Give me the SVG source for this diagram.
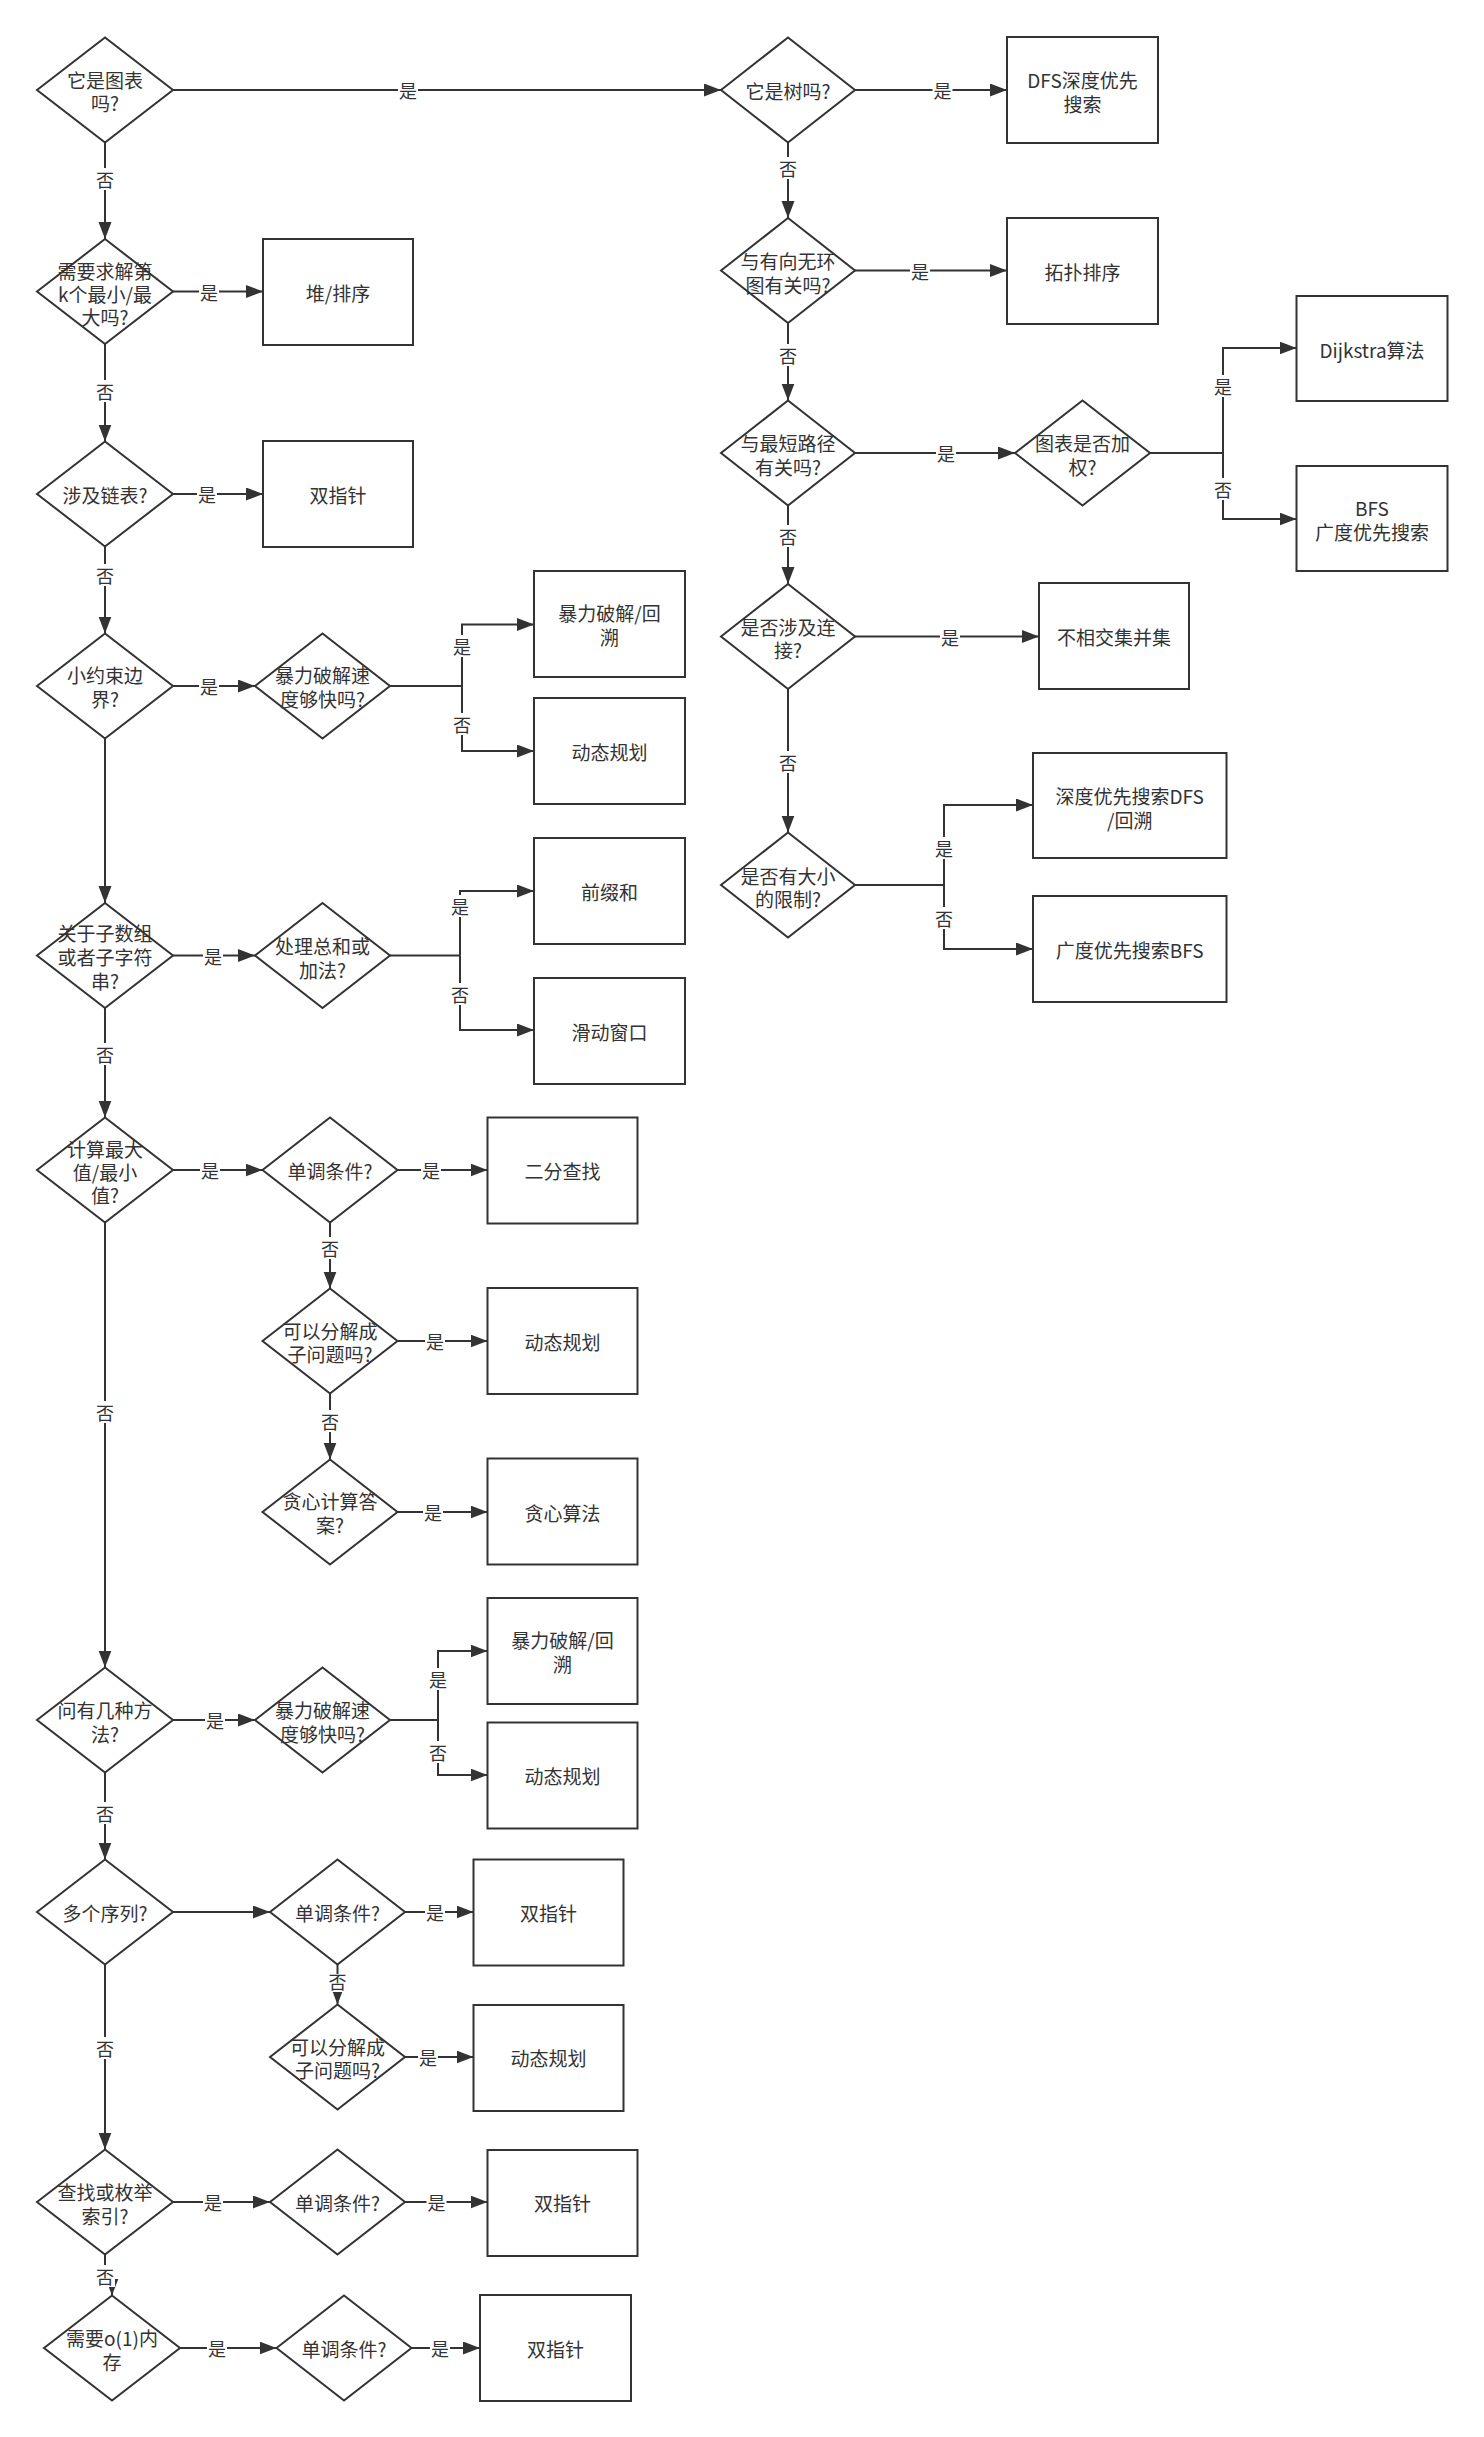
<svg xmlns="http://www.w3.org/2000/svg" width="1484" height="2437" viewBox="0 0 1484 2437">
<style>
.bg{fill:#ffffff}
.n polygon,.n rect{fill:#ffffff;stroke:#333333;stroke-width:2}
.t{font-family:"Noto Sans CJK SC","Liberation Sans",sans-serif;font-size:19px;fill:#333333;text-anchor:middle;dominant-baseline:central}
.e path{fill:none;stroke:#333333;stroke-width:2}
.e .a{marker-end:url(#arr)}
.lb rect{fill:#ffffff}
.lb text{font-family:"Noto Sans CJK SC","Liberation Sans",sans-serif;font-size:18px;fill:#333333;text-anchor:middle;dominant-baseline:central}
</style>
<defs>
<marker id="arr" markerUnits="userSpaceOnUse" markerWidth="18" markerHeight="14" refX="17" refY="6.5" orient="auto">
<path d="M0,0 L17,6.5 L0,13 z" fill="#333333"/>
</marker>
</defs>
<rect class="bg" x="0" y="0" width="1484" height="2437"/>

<g id="edges" class="e">
<path class="a" d="M173,90 L721,90"/>
<path class="a" d="M105,142.5 L105,239"/>
<path class="a" d="M173,291.5 L263,291.5"/>
<path class="a" d="M105,344 L105,441.5"/>
<path class="a" d="M173,494 L263,494"/>
<path class="a" d="M105,546.5 L105,633.5"/>
<path class="a" d="M173,686 L255,686"/>
<path d="M390,686 L462,686"/>
<path class="a" d="M462,686 L462,624.5 L534,624.5"/>
<path class="a" d="M462,686 L462,751 L534,751"/>
<path class="a" d="M105,738.5 L105,903"/>
<path class="a" d="M173,955.5 L255,955.5"/>
<path d="M390,955.5 L460,955.5"/>
<path class="a" d="M460,955.5 L460,891 L534,891"/>
<path class="a" d="M460,955.5 L460,1030 L534,1030"/>
<path class="a" d="M105,1008 L105,1117.5"/>
<path class="a" d="M173,1170 L262.5,1170"/>
<path class="a" d="M397.5,1170 L487.5,1170"/>
<path class="a" d="M330,1222.5 L330,1288.5"/>
<path class="a" d="M397.5,1341 L487.5,1341"/>
<path class="a" d="M330,1393.5 L330,1459.5"/>
<path class="a" d="M397.5,1512 L487.5,1512"/>
<path class="a" d="M105,1222.5 L105,1667.5"/>
<path class="a" d="M173,1720 L255,1720"/>
<path d="M390,1720 L438,1720"/>
<path class="a" d="M438,1720 L438,1651 L487.5,1651"/>
<path class="a" d="M438,1720 L438,1775 L487.5,1775"/>
<path class="a" d="M105,1772.5 L105,1859.5"/>
<path class="a" d="M173,1912 L270,1912"/>
<path class="a" d="M405,1912 L473.5,1912"/>
<path class="a" d="M337.5,1964.5 L337.5,2004.5"/>
<path class="a" d="M405,2057 L473.5,2057"/>
<path class="a" d="M105,1964.5 L105,2149.5"/>
<path class="a" d="M173,2202 L270,2202"/>
<path class="a" d="M405,2202 L487.5,2202"/>
<path class="a" d="M105,2254.5 L105,2276 L112,2276 L112,2295.5"/>
<path class="a" d="M180,2348 L276.5,2348"/>
<path class="a" d="M411.5,2348 L480,2348"/>
<path class="a" d="M855,90 L1007,90"/>
<path class="a" d="M788,142.5 L788,218"/>
<path class="a" d="M855,270.5 L1007,270.5"/>
<path class="a" d="M788,323 L788,400.5"/>
<path class="a" d="M855,453 L1015,453"/>
<path d="M1150,453 L1223,453"/>
<path class="a" d="M1223,453 L1223,348 L1296.5,348"/>
<path class="a" d="M1223,453 L1223,519 L1296.5,519"/>
<path class="a" d="M788,505.5 L788,584"/>
<path class="a" d="M855,636.5 L1039,636.5"/>
<path class="a" d="M788,689 L788,832.5"/>
<path d="M855,885 L944,885"/>
<path class="a" d="M944,885 L944,805 L1033,805"/>
<path class="a" d="M944,885 L944,949 L1033,949"/>
</g>

<g id="edge-labels" class="lb">
<rect x="398" y="79" width="20" height="22"/><text x="408" y="90">是</text>
<rect x="95" y="168" width="20" height="22"/><text x="105" y="179">否</text>
<rect x="199" y="280.5" width="20" height="22"/><text x="209" y="291.5">是</text>
<rect x="95" y="380" width="20" height="22"/><text x="105" y="391">否</text>
<rect x="197" y="483" width="20" height="22"/><text x="207" y="494">是</text>
<rect x="95" y="564" width="20" height="22"/><text x="105" y="575">否</text>
<rect x="199" y="675" width="20" height="22"/><text x="209" y="686">是</text>
<rect x="452" y="635" width="20" height="22"/><text x="462" y="646">是</text>
<rect x="452" y="713" width="20" height="22"/><text x="462" y="724">否</text>
<rect x="203" y="944.5" width="20" height="22"/><text x="213" y="955.5">是</text>
<rect x="450" y="895" width="20" height="22"/><text x="460" y="906">是</text>
<rect x="450" y="983" width="20" height="22"/><text x="460" y="994">否</text>
<rect x="95" y="1043" width="20" height="22"/><text x="105" y="1054">否</text>
<rect x="200" y="1159" width="20" height="22"/><text x="210" y="1170">是</text>
<rect x="421" y="1159" width="20" height="22"/><text x="431" y="1170">是</text>
<rect x="320" y="1237" width="20" height="22"/><text x="330" y="1248">否</text>
<rect x="425" y="1330" width="20" height="22"/><text x="435" y="1341">是</text>
<rect x="320" y="1410" width="20" height="22"/><text x="330" y="1421">否</text>
<rect x="423" y="1501" width="20" height="22"/><text x="433" y="1512">是</text>
<rect x="95" y="1401" width="20" height="22"/><text x="105" y="1412">否</text>
<rect x="205" y="1709" width="20" height="22"/><text x="215" y="1720">是</text>
<rect x="428" y="1668" width="20" height="22"/><text x="438" y="1679">是</text>
<rect x="428" y="1741" width="20" height="22"/><text x="438" y="1752">否</text>
<rect x="95" y="1802" width="20" height="22"/><text x="105" y="1813">否</text>
<rect x="425" y="1901" width="20" height="22"/><text x="435" y="1912">是</text>
<rect x="327.5" y="1974" width="20" height="18"/><text x="337.5" y="1981">否</text>
<rect x="418" y="2046" width="20" height="22"/><text x="428" y="2057">是</text>
<rect x="95" y="2037" width="20" height="22"/><text x="105" y="2048">否</text>
<rect x="203" y="2191" width="20" height="22"/><text x="213" y="2202">是</text>
<rect x="426.5" y="2191" width="20" height="22"/><text x="436.5" y="2202">是</text>
<rect x="95" y="2265" width="20" height="22"/><text x="105" y="2276">否</text>
<rect x="207" y="2337" width="20" height="22"/><text x="217" y="2348">是</text>
<rect x="430" y="2337" width="20" height="22"/><text x="440" y="2348">是</text>
<rect x="932.5" y="79" width="20" height="22"/><text x="942.5" y="90">是</text>
<rect x="778" y="157" width="20" height="22"/><text x="788" y="168">否</text>
<rect x="910" y="259.5" width="20" height="22"/><text x="920" y="270.5">是</text>
<rect x="778" y="344" width="20" height="22"/><text x="788" y="355">否</text>
<rect x="936" y="442" width="20" height="22"/><text x="946" y="453">是</text>
<rect x="1213" y="375" width="20" height="22"/><text x="1223" y="386">是</text>
<rect x="1213" y="478" width="20" height="22"/><text x="1223" y="489">否</text>
<rect x="778" y="525" width="20" height="22"/><text x="788" y="536">否</text>
<rect x="940" y="625.5" width="20" height="22"/><text x="950" y="636.5">是</text>
<rect x="778" y="751" width="20" height="22"/><text x="788" y="762">否</text>
<rect x="934" y="837" width="20" height="22"/><text x="944" y="848">是</text>
<rect x="934" y="907" width="20" height="22"/><text x="944" y="918">否</text>
</g>

<g id="d1" class="n"><polygon points="37,90 105,37.5 173,90 105,142.5"/><text class="t" x="105" y="79">它是图表</text><text class="t" x="105" y="102">吗?</text></g>
<g id="d2" class="n"><polygon points="37,291.5 105,239 173,291.5 105,344"/><text class="t" x="105" y="270">需要求解第</text><text class="t" x="105" y="293">k个最小/最</text><text class="t" x="105" y="316">大吗?</text></g>
<g id="d3" class="n"><polygon points="37,494 105,441.5 173,494 105,546.5"/><text class="t" x="105" y="494">涉及链表?</text></g>
<g id="d4" class="n"><polygon points="37,686 105,633.5 173,686 105,738.5"/><text class="t" x="105" y="674">小约束边</text><text class="t" x="105" y="698">界?</text></g>
<g id="d5" class="n"><polygon points="37,955.5 105,903 173,955.5 105,1008"/><text class="t" x="105" y="932">关于子数组</text><text class="t" x="105" y="956">或者子字符</text><text class="t" x="105" y="980">串?</text></g>
<g id="d6" class="n"><polygon points="37,1170 105,1117.5 173,1170 105,1222.5"/><text class="t" x="105" y="1148">计算最大</text><text class="t" x="105" y="1171">值/最小</text><text class="t" x="105" y="1194">值?</text></g>
<g id="d7" class="n"><polygon points="37,1720 105,1667.5 173,1720 105,1772.5"/><text class="t" x="105" y="1709">问有几种方</text><text class="t" x="105" y="1733">法?</text></g>
<g id="d8" class="n"><polygon points="37,1912 105,1859.5 173,1912 105,1964.5"/><text class="t" x="105" y="1912">多个序列?</text></g>
<g id="d9" class="n"><polygon points="37,2202 105,2149.5 173,2202 105,2254.5"/><text class="t" x="105" y="2191">查找或枚举</text><text class="t" x="105" y="2215">索引?</text></g>
<g id="d10" class="n"><polygon points="44,2348 112,2295.5 180,2348 112,2400.5"/><text class="t" x="112" y="2337">需要o(1)内</text><text class="t" x="112" y="2361">存</text></g>

<g id="e1" class="n"><polygon points="255,686 322.5,633.5 390,686 322.5,738.5"/><text class="t" x="322.5" y="674">暴力破解速</text><text class="t" x="322.5" y="698">度够快吗?</text></g>
<g id="e2" class="n"><polygon points="255,955.5 322.5,903 390,955.5 322.5,1008"/><text class="t" x="322.5" y="945">处理总和或</text><text class="t" x="322.5" y="969">加法?</text></g>
<g id="e3" class="n"><polygon points="262.5,1170 330,1117.5 397.5,1170 330,1222.5"/><text class="t" x="330" y="1170">单调条件?</text></g>
<g id="e4" class="n"><polygon points="262.5,1341 330,1288.5 397.5,1341 330,1393.5"/><text class="t" x="330" y="1330">可以分解成</text><text class="t" x="330" y="1353">子问题吗?</text></g>
<g id="e5" class="n"><polygon points="262.5,1512 330,1459.5 397.5,1512 330,1564.5"/><text class="t" x="330" y="1500">贪心计算答</text><text class="t" x="330" y="1524">案?</text></g>
<g id="e6" class="n"><polygon points="255,1720 322.5,1667.5 390,1720 322.5,1772.5"/><text class="t" x="322.5" y="1709">暴力破解速</text><text class="t" x="322.5" y="1733">度够快吗?</text></g>
<g id="e7" class="n"><polygon points="270,1912 337.5,1859.5 405,1912 337.5,1964.5"/><text class="t" x="337.5" y="1912">单调条件?</text></g>
<g id="e8" class="n"><polygon points="270,2057 337.5,2004.5 405,2057 337.5,2109.5"/><text class="t" x="337.5" y="2046">可以分解成</text><text class="t" x="337.5" y="2069">子问题吗?</text></g>
<g id="e9" class="n"><polygon points="270,2202 337.5,2149.5 405,2202 337.5,2254.5"/><text class="t" x="337.5" y="2202">单调条件?</text></g>
<g id="e10" class="n"><polygon points="276.5,2348 344,2295.5 411.5,2348 344,2400.5"/><text class="t" x="344" y="2348">单调条件?</text></g>

<g id="b1" class="n"><rect x="263" y="239" width="150" height="106"/><text class="t" x="338" y="292">堆/排序</text></g>
<g id="b2" class="n"><rect x="263" y="441" width="150" height="106"/><text class="t" x="338" y="494">双指针</text></g>
<g id="b3" class="n"><rect x="534" y="571" width="151" height="106"/><text class="t" x="609.5" y="612">暴力破解/回</text><text class="t" x="609.5" y="636">溯</text></g>
<g id="b4" class="n"><rect x="534" y="698" width="151" height="106"/><text class="t" x="609.5" y="751">动态规划</text></g>
<g id="b5" class="n"><rect x="534" y="838" width="151" height="106"/><text class="t" x="609.5" y="891">前缀和</text></g>
<g id="b6" class="n"><rect x="534" y="978" width="151" height="106"/><text class="t" x="609.5" y="1031">滑动窗口</text></g>
<g id="b7" class="n"><rect x="487.5" y="1117.5" width="150" height="106"/><text class="t" x="562.5" y="1170">二分查找</text></g>
<g id="b8" class="n"><rect x="487.5" y="1288" width="150" height="106"/><text class="t" x="562.5" y="1341">动态规划</text></g>
<g id="b9" class="n"><rect x="487.5" y="1458.5" width="150" height="106"/><text class="t" x="562.5" y="1512">贪心算法</text></g>
<g id="b10" class="n"><rect x="487.5" y="1598" width="150" height="106"/><text class="t" x="562.5" y="1639">暴力破解/回</text><text class="t" x="562.5" y="1663">溯</text></g>
<g id="b11" class="n"><rect x="487.5" y="1722.5" width="150" height="106"/><text class="t" x="562.5" y="1775">动态规划</text></g>
<g id="b12" class="n"><rect x="473.5" y="1859.5" width="150" height="106"/><text class="t" x="548.5" y="1912">双指针</text></g>
<g id="b13" class="n"><rect x="473.5" y="2005" width="150" height="106"/><text class="t" x="548.5" y="2057">动态规划</text></g>
<g id="b14" class="n"><rect x="487.5" y="2150" width="150" height="106"/><text class="t" x="562.5" y="2202">双指针</text></g>
<g id="b15" class="n"><rect x="480" y="2295" width="151" height="106"/><text class="t" x="555.5" y="2348">双指针</text></g>

<g id="r1" class="n"><polygon points="721,90 788,37.5 855,90 788,142.5"/><text class="t" x="788" y="90">它是树吗?</text></g>
<g id="r2" class="n"><polygon points="721,270.5 788,218 855,270.5 788,323"/><text class="t" x="788" y="260">与有向无环</text><text class="t" x="788" y="284">图有关吗?</text></g>
<g id="r3" class="n"><polygon points="721,453 788,400.5 855,453 788,505.5"/><text class="t" x="788" y="442">与最短路径</text><text class="t" x="788" y="466">有关吗?</text></g>
<g id="r4" class="n"><polygon points="1015,453 1082.5,400.5 1150,453 1082.5,505.5"/><text class="t" x="1082.5" y="442">图表是否加</text><text class="t" x="1082.5" y="466">权?</text></g>
<g id="r5" class="n"><polygon points="721,636.5 788,584 855,636.5 788,689"/><text class="t" x="788" y="626">是否涉及连</text><text class="t" x="788" y="649">接?</text></g>
<g id="r6" class="n"><polygon points="721,885 788,832.5 855,885 788,937.5"/><text class="t" x="788" y="875">是否有大小</text><text class="t" x="788" y="898">的限制?</text></g>

<g id="rb1" class="n"><rect x="1007" y="37" width="151" height="106"/><text class="t" x="1082.5" y="79">DFS深度优先</text><text class="t" x="1082.5" y="103">搜索</text></g>
<g id="rb2" class="n"><rect x="1007" y="218" width="151" height="106"/><text class="t" x="1082.5" y="271">拓扑排序</text></g>
<g id="rb3" class="n"><rect x="1296.5" y="296" width="151" height="105"/><text class="t" x="1372" y="349">Dijkstra算法</text></g>
<g id="rb4" class="n"><rect x="1296.5" y="466" width="151" height="105"/><text class="t" x="1372" y="507">BFS</text><text class="t" x="1372" y="531">广度优先搜索</text></g>
<g id="rb5" class="n"><rect x="1039" y="583" width="150" height="106"/><text class="t" x="1114" y="636">不相交集并集</text></g>
<g id="rb6" class="n"><rect x="1033" y="753" width="193.5" height="105"/><text class="t" x="1129.7" y="795">深度优先搜索DFS</text><text class="t" x="1129.7" y="819">/回溯</text></g>
<g id="rb7" class="n"><rect x="1033" y="896" width="193.5" height="106"/><text class="t" x="1129.7" y="949">广度优先搜索BFS</text></g>
</svg>
